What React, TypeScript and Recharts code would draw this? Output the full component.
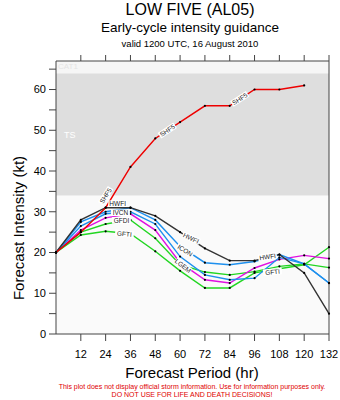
import React from 'react';
import {
  LineChart, Line, XAxis, YAxis, ReferenceArea, LabelList,
} from 'recharts';

const hours = [0, 12, 24, 36, 48, 60, 72, 84, 96, 108, 120, 132];
const shf5 = [20, 25, 31, 41, 48, 52, 56, 56, 60, 60, 61, null];
const hwfi = [20, 28, 31, 31, 29, 25, 21, 18, 18, 19.5, 15, 5];
const icon = [20, 27.5, 30, 31, 28, 21.5, 17.5, 17, 17.8, 19.5, 17.2, 12.5];
const ivcn = [20, 26.5, 29.5, 30, 27, 19, 14.5, 13.3, 13.7, 18.8, 17.2, 12.5];
const lgem = [20, 25.5, 28.5, 29.5, 25.5, 17.5, 13.3, 12.5, 16.2, 18.3, 19.3, 18.5];
const gfdi = [20, 25, 27, 28, 23.5, 17, 15.2, 14.5, 15.3, 16.6, 17.2, 16.3];
const gfti = [20, 24.3, 25.2, 24.6, 20.3, 15.5, 11.3, 11.3, 15, 16, 17, 21.3];

const xTicks = [12, 24, 36, 48, 60, 72, 84, 96, 108, 120, 132];
const yTicks = [0, 5, 10, 15, 20, 25, 30, 35, 40, 45, 50, 55, 60, 65];

const data = hours.map((h, i) => ({
  h,
  SHF5: shf5[i],
  HWFI: hwfi[i],
  ICON: icon[i],
  IVCN: ivcn[i],
  LGEM: lgem[i],
  GFDI: gfdi[i],
  GFTI: gfti[i],
}));

// where each model name sits on its line: point index, offset, rotation
type Tag = { i: number; dx: number; dy: number; a: number };
const tags: Record<string, Tag[]> = {
  SHF5: [{ i: 2, dx: 0, dy: -12, a: -58 }, { i: 4, dx: 12, dy: -8, a: -34 }, { i: 7, dx: 10, dy: -7, a: -33 }],
  HWFI: [{ i: 2, dx: 12, dy: -4, a: 0 }, { i: 5, dx: 11, dy: 6, a: 25 }, { i: 8, dx: 13, dy: -4, a: -8 }],
  ICON: [{ i: 5, dx: 5, dy: 4, a: 33 }],
  IVCN: [{ i: 3, dx: -10, dy: 1, a: 0 }],
  LGEM: [{ i: 5, dx: 3, dy: 3, a: 38 }],
  GFDI: [{ i: 3, dx: -9, dy: 0.5, a: 0 }],
  GFTI: [{ i: 3, dx: -6, dy: 0, a: 6 }, { i: 8, dx: 18, dy: -1, a: -5 }],
};

const makeTag = (name: string) => (props: any) => {
  const { x, y, index } = props;
  const t = (tags[name] || []).find((s) => s.i === index);
  if (!t || x == null || y == null) return null;
  const w = name.length * 4.2 + 2;
  return (
    <g key={`${name}-${index}`} transform={`translate(${x + t.dx},${y + t.dy}) rotate(${t.a})`}>
      <rect x={-w / 2} y={-3.3} width={w} height={6.6} fill="#fff" />
      <text textAnchor="middle" dy={2.4} fontSize={6.5} fill="#222">{name}</text>
    </g>
  );
};

const series = [
  { key: 'GFTI', color: '#22d622' },
  { key: 'GFDI', color: '#22d622' },
  { key: 'LGEM', color: '#e010e0' },
  { key: 'IVCN', color: '#1e90ee' },
  { key: 'ICON', color: '#1e90ee' },
  { key: 'HWFI', color: '#333333' },
  { key: 'SHF5', color: '#ee0000' },
];

const font = '"Liberation Sans", Arial, Helvetica, sans-serif';

export default function App() {
  return (
    <div style={{ position: 'absolute', left: 0, top: 0, width: 340, height: 400, background: '#fff', fontFamily: font }}>
      <LineChart width={340} height={400} data={data} margin={{ top: 54, right: 0, bottom: 36, left: 0 }}>
        <XAxis
          xAxisId="b" dataKey="h" type="number" domain={[0, 132]} ticks={xTicks}
          height={30} tickSize={7} tickMargin={9} stroke="#444"
          tick={{ fontSize: 11, fill: '#000', fontFamily: font }}
        />
        <XAxis
          xAxisId="t" orientation="top" dataKey="h" type="number" domain={[0, 132]} ticks={xTicks}
          height={7} tickSize={6} stroke="#444" tickFormatter={() => ''}
        />
        <YAxis
          yAxisId="l" type="number" domain={[0, 67]} ticks={yTicks} width={56}
          tickSize={7} tickMargin={3} stroke="#444" interval={0}
          tickFormatter={(v: number) => (v % 10 === 0 ? String(v) : '')}
          tick={{ fontSize: 11, fill: '#000', fontFamily: font }}
        />
        <YAxis
          yAxisId="r" orientation="right" type="number" domain={[0, 67]} ticks={yTicks} width={11}
          tickSize={6} stroke="#444" interval={0} tickFormatter={() => ''}
        />
        <ReferenceArea xAxisId="b" yAxisId="l" y1={0} y2={34} fill="#fafafa" fillOpacity={1} stroke="none" />
        <ReferenceArea
          xAxisId="b" yAxisId="l" y1={34} y2={64} fill="#dedede" fillOpacity={1} stroke="none"
          label={{ value: 'TS', position: 'insideLeft', offset: 8, fill: '#fff', fontSize: 9 }}
        />
        <ReferenceArea
          xAxisId="b" yAxisId="l" y1={64} y2={67} fill="#f6f6f6" fillOpacity={1} stroke="none"
          label={{ value: 'CAT1', position: 'insideTopLeft', offset: 2, fill: '#e4e4e4', fontSize: 8 }}
        />
        {series.map((s) => (
          <Line
            key={s.key}
            xAxisId="b"
            yAxisId="l"
            type="linear"
            dataKey={s.key}
            stroke={s.color}
            strokeWidth={1.4}
            dot={{ r: 1.1, fill: '#000', stroke: 'none' }}
            activeDot={false}
            connectNulls={false}
            isAnimationActive={false}
          >
            <LabelList dataKey={s.key} content={makeTag(s.key)} />
          </Line>
        ))}
      </LineChart>

      <div style={{ position: 'absolute', left: 0, width: 380, top: 1, textAlign: 'center', fontSize: 16, lineHeight: '18px' }}>
        LOW FIVE (AL05)
      </div>
      <div style={{ position: 'absolute', left: 0, width: 380, top: 20, textAlign: 'center', fontSize: 13.5, lineHeight: '16px' }}>
        Early-cycle intensity guidance
      </div>
      <div style={{ position: 'absolute', left: 0, width: 380, top: 38, textAlign: 'center', fontSize: 9.5, lineHeight: '11px' }}>
        valid 1200 UTC, 16 August 2010
      </div>
      <div
        style={{
          position: 'absolute', left: 19 - 110, top: 228 - 9, width: 220, height: 18, lineHeight: '18px',
          textAlign: 'center', fontSize: 15, transform: 'rotate(-90deg)',
        }}
      >
        Forecast Intensity (kt)
      </div>
      <div style={{ position: 'absolute', left: 0, width: 384, top: 364, textAlign: 'center', fontSize: 15, lineHeight: '18px' }}>
        Forecast Period (hr)
      </div>
      <div style={{ position: 'absolute', left: 0, width: 384, top: 383, textAlign: 'center', fontSize: 7, lineHeight: '8px', color: '#e00000' }}>
        This plot does not display official storm information. Use for information purposes only.
        <br />
        DO NOT USE FOR LIFE AND DEATH DECISIONS!
      </div>
    </div>
  );
}
